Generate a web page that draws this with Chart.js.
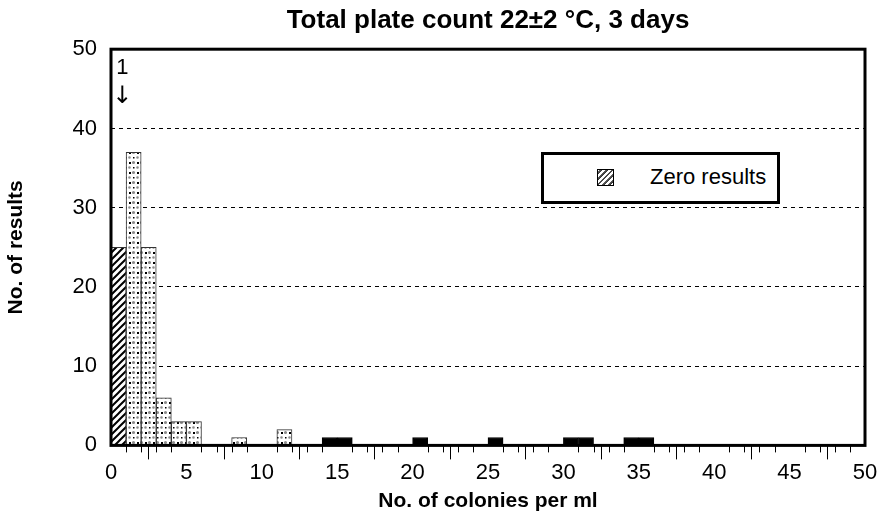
<!DOCTYPE html>
<html>
<head>
<meta charset="utf-8">
<script src="https://cdn.jsdelivr.net/npm/chart.js@4.4.1/dist/chart.umd.min.js"></script>
<style>
	body { margin: 0; background: #fff; }
	#wrap { position: relative; width: 880px; height: 516px; }
	#legend-box {
		position: absolute; left: 541px; top: 152px; width: 233px; height: 46px;
		border: 3px solid #000; background: #fff;
		font: 22px 'Liberation Sans', Arial, sans-serif; color: #000;
	}
	#legend-swatch {
		position: absolute; left: 53px; top: 14px; width: 15px; height: 15px;
		border: 1px solid #000;
		background: repeating-linear-gradient(-45deg, #fff 0px, #fff 2px, #333 2px, #666 4px);
	}
	#legend-text { position: absolute; left: 106px; top: 9px; }
</style>
</head>
<body>
<div id="wrap">
	<canvas id="chart-canvas" width="880" height="516"></canvas>
	<div id="legend-box"><div id="legend-swatch"></div><div id="legend-text">Zero results</div></div>
</div>
<script>
// histogram bins (start of each 1 colony/ml bin) and number of results
const zero_bins = [0]
const zero_counts = [25]
const low_bins = [1, 2, 3, 4, 5, 8, 11]
const low_counts = [37, 25, 6, 3, 3, 1, 2]
const high_bins = [14, 15, 20, 25, 30, 31, 34, 35]
const high_counts = [1, 1, 1, 1, 1, 1, 1, 1]

const x_ticks = [0, 5, 10, 15, 20, 25, 30, 35, 40, 45, 50]
const y_ticks = [0, 10, 20, 30, 40, 50]

const font_family = "'Liberation Sans', Arial, sans-serif"

function make_points(bins, counts) {
	let points = []
	for (let i = 0; i < bins.length; i ++) {
		points.push({x: bins[i] + 0.5, y: counts[i]})
	}
	return points
}

function hatch_pattern() {
	let tile = document.createElement('canvas')
	tile.width = 7
	tile.height = 7
	let ctx = tile.getContext('2d')
	ctx.fillStyle = '#fff'
	ctx.fillRect(0, 0, 7, 7)
	ctx.strokeStyle = '#000'
	ctx.lineWidth = 2
	ctx.beginPath()
	ctx.moveTo(-1, 8); ctx.lineTo(8, -1)
	ctx.moveTo(-1, 1); ctx.lineTo(1, -1)
	ctx.moveTo(6, 8); ctx.lineTo(8, 6)
	ctx.stroke()
	return ctx.createPattern(tile, 'repeat')
}

function dot_pattern() {
	let tile = document.createElement('canvas')
	tile.width = 8
	tile.height = 10
	let ctx = tile.getContext('2d')
	ctx.fillStyle = '#fff'
	ctx.fillRect(0, 0, 8, 10)
	ctx.fillStyle = '#8c8c8c'
	ctx.beginPath()
	ctx.arc(5.5, 2.5, 1.6, 0, Math.PI * 2)
	ctx.arc(1.5, 7.5, 1.3, 0, Math.PI * 2)
	ctx.fill()
	ctx.fillStyle = '#000'
	ctx.fillRect(1, 2, 2, 2)
	ctx.fillRect(5, 7, 1.5, 1.5)
	return ctx.createPattern(tile, 'repeat')
}

// thick frame round the plot, short minor ticks and the "1 ↓" marker
const frame_plugin = {
	id: 'frame',
	afterDatasetsDraw(chart) {
		let ctx = chart.ctx
		let area = chart.chartArea
		let x = chart.scales.x
		let y = chart.scales.y
		ctx.save()
		ctx.strokeStyle = '#000'
		ctx.lineWidth = 1
		ctx.beginPath()
		for (let v = 0; v <= 50; v ++) {
			if (v % 5 == 0) continue
			let px = Math.round(x.getPixelForValue(v)) + 0.5
			ctx.moveTo(px, area.bottom)
			ctx.lineTo(px, area.bottom + 7)
		}
		ctx.stroke()
		ctx.lineWidth = 3
		ctx.strokeRect(area.left, area.top, area.right - area.left, area.bottom - area.top)

		ctx.fillStyle = '#000'
		ctx.textAlign = 'center'
		ctx.textBaseline = 'middle'
		ctx.font = '22px ' + font_family
		ctx.fillText('1', x.getPixelForValue(0.75), y.getPixelForValue(47.6))
		ctx.font = "24px 'DejaVu Sans', sans-serif"
		ctx.fillText('↓', x.getPixelForValue(0.75), y.getPixelForValue(44))
		ctx.restore()
	}
}

new Chart(document.getElementById('chart-canvas'), {
	type: 'bar',
	data: {
		datasets: [
			{
				label: 'Zero results',
				data: make_points(zero_bins, zero_counts),
				backgroundColor: hatch_pattern(),
				borderColor: '#333',
				borderWidth: 1
			},
			{
				label: 'Results',
				data: make_points(low_bins, low_counts),
				backgroundColor: dot_pattern(),
				borderColor: '#333',
				borderWidth: 1
			},
			{
				label: 'High results',
				data: make_points(high_bins, high_counts),
				backgroundColor: '#000',
				borderColor: '#000',
				borderWidth: 1
			}
		]
	},
	options: {
		responsive: false,
		animation: false,
		datasets: {
			bar: {
				grouped: false,
				barPercentage: 1,
				categoryPercentage: 1
			}
		},
		layout: {
			padding: {left: 0, right: 15, top: 0, bottom: 2}
		},
		plugins: {
			legend: {display: false},
			tooltip: {enabled: false},
			title: {
				display: true,
				fullSize: false,
				text: 'Total plate count 22±2 °C, 3 days',
				color: '#000',
				font: {family: font_family, size: 26, weight: 'bold'},
				padding: {top: 5, bottom: 13}
			}
		},
		scales: {
			x: {
				type: 'linear',
				min: 0,
				max: 50,
				offset: false,
				afterBuildTicks(scale) {
					scale.ticks = x_ticks.map(v => ({value: v}))
				},
				ticks: {
					color: '#000',
					font: {family: font_family, size: 22},
					padding: 0,
					maxRotation: 0,
					autoSkip: false
				},
				grid: {
					drawOnChartArea: false,
					drawTicks: true,
					tickLength: 14,
					tickColor: '#000',
					tickWidth: 1
				},
				border: {display: false},
				title: {
					display: true,
					text: 'No. of colonies per ml',
					color: '#000',
					font: {family: font_family, size: 21, weight: 'bold'},
					padding: {top: 3, bottom: 0}
				}
			},
			y: {
				min: 0,
				max: 50,
				afterBuildTicks(scale) {
					scale.ticks = y_ticks.map(v => ({value: v}))
				},
				afterFit(scale) {
					scale.width = 111
				},
				ticks: {
					color: '#000',
					font: {family: font_family, size: 22},
					padding: 14
				},
				grid: {
					color: '#000',
					lineWidth: 1,
					drawTicks: false
				},
				border: {display: false, dash: [4, 4]},
				title: {
					display: true,
					text: 'No. of results',
					color: '#000',
					font: {family: font_family, size: 21, weight: 'bold'},
					padding: {top: 4, bottom: 0}
				}
			}
		}
	},
	plugins: [frame_plugin]
})
</script>
</body>
</html>
